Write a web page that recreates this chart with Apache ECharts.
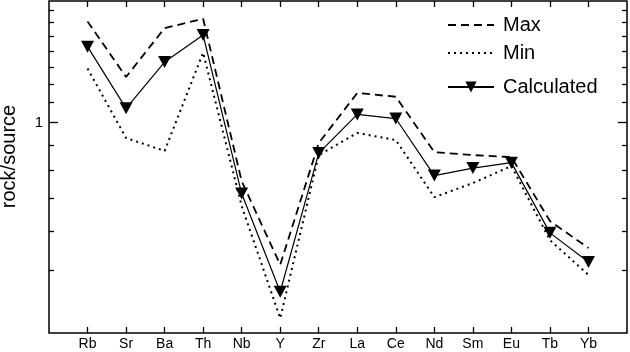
<!DOCTYPE html>
<html>
<head>
<meta charset="utf-8">
<script src="https://cdn.jsdelivr.net/npm/echarts@6/dist/echarts.min.js"></script>
<style>
  html, body { margin: 0; padding: 0; background: #fff; }
  #chart { width: 630px; height: 352px; }
</style>
</head>
<body>
<div id="chart"></div>
<script>
// element order on the x axis
const elements = ["Rb", "Sr", "Ba", "Th", "Nb", "Y", "Zr", "La", "Ce", "Nd", "Sm", "Eu", "Tb", "Yb"];

// rock/source ratios
const maxValues = [1.61, 1.24, 1.56, 1.63, 0.76, 0.513, 0.909, 1.15, 1.13, 0.871, 0.859, 0.851, 0.63, 0.555];
const minValues = [1.29, 0.931, 0.876, 1.39, 0.676, 0.399, 0.859, 0.953, 0.922, 0.705, 0.753, 0.816, 0.576, 0.489];
const calcValues = [1.43, 1.07, 1.33, 1.51, 0.717, 0.452, 0.867, 1.04, 1.02, 0.78, 0.808, 0.829, 0.596, 0.52];

// log axis range and ticks
const yMin = 0.3723;
const yMax = 1.772;
const yMinorTicks = [0.5, 0.6, 0.7, 0.8, 0.9, 1.1, 1.2, 1.3, 1.4, 1.5, 1.6, 1.7];
const yMajorTicks = [1];

const font = "Liberation Sans, Arial, sans-serif";
const lg = (v) => Math.log10(v);
const toPoints = (arr) => arr.map((v, i) => [i, lg(v)]);
const xIdx = elements.map((_, i) => i);

const chart = echarts.init(document.getElementById("chart"));

function xAxis(pos, showLabel) {
  return {
    type: "value",
    position: pos,
    min: -1,
    max: elements.length,
    interval: 1,
    axisLine: { show: false, onZero: false },
    splitLine: { show: false },
    axisTick: {
      show: true,
      inside: true,
      length: 6,
      customValues: xIdx,
      lineStyle: { color: "#000", width: 1.3 },
    },
    axisLabel: {
      show: showLabel,
      customValues: xIdx,
      margin: 4,
      color: "#000",
      fontSize: 14,
      fontFamily: font,
      formatter: (v) => elements[v] || "",
    },
  };
}

function yAxis(pos, ticks, len, withLabel) {
  return {
    type: "value",
    position: pos,
    min: lg(yMin),
    max: lg(yMax),
    name: withLabel ? "rock/source" : "",
    nameLocation: "middle",
    nameGap: 30,
    nameTextStyle: { color: "#000", fontSize: 20, fontFamily: font, padding: [0, 0, 0, 21] },
    axisLine: { show: false, onZero: false },
    splitLine: { show: false },
    axisTick: {
      show: true,
      inside: true,
      length: len,
      customValues: ticks.map(lg),
      lineStyle: { color: "#000", width: 1.3 },
    },
    axisLabel: {
      show: withLabel,
      customValues: yMajorTicks.map(lg),
      margin: 6,
      color: "#000",
      fontSize: 15,
      fontFamily: font,
      formatter: (v) => String(Math.round(Math.pow(10, v) * 100) / 100),
    },
  };
}

function legend(name, top, hideSymbol) {
  return {
    data: [name],
    left: 447,
    top: top,
    padding: 0,
    orient: "vertical",
    itemWidth: 46,
    itemHeight: 14,
    selectedMode: false,
    itemStyle: hideSymbol ? { opacity: 0 } : {},
    textStyle: { color: "#000", fontSize: 20, fontFamily: font, padding: [0, 0, 0, 4] },
  };
}

const option = {
  animation: false,
  backgroundColor: "#fff",
  grid: {
    show: true,
    left: 49,
    right: 3,
    top: 1,
    bottom: 19,
    borderColor: "#000",
    borderWidth: 1.5,
    containLabel: false,
    outerBoundsMode: "none",
  },
  legend: [legend("Max", 15, true), legend("Min", 43, true), legend("Calculated", 77, false)],
  xAxis: [xAxis("bottom", true), xAxis("top", false)],
  yAxis: [
    yAxis("left", yMinorTicks, 5, true),
    yAxis("left", yMajorTicks, 9, false),
    yAxis("right", yMinorTicks, 5, false),
    yAxis("right", yMajorTicks, 9, false),
  ],
  series: [
    {
      name: "Max",
      type: "line",
      data: toPoints(maxValues),
      symbol: "none",
      itemStyle: { color: "#000" },
      lineStyle: { color: "#000", width: 1.8, type: [8, 5] },
    },
    {
      name: "Min",
      type: "line",
      data: toPoints(minValues),
      symbol: "none",
      itemStyle: { color: "#000" },
      lineStyle: { color: "#000", width: 2, type: [2, 4] },
    },
    {
      name: "Calculated",
      type: "line",
      data: toPoints(calcValues),
      symbol: "triangle",
      symbolRotate: 180,
      symbolSize: [13, 12],
      itemStyle: { color: "#000" },
      lineStyle: { color: "#000", width: 1.2 },
      z: 3,
    },
  ],
};

chart.setOption(option);
</script>
</body>
</html>
